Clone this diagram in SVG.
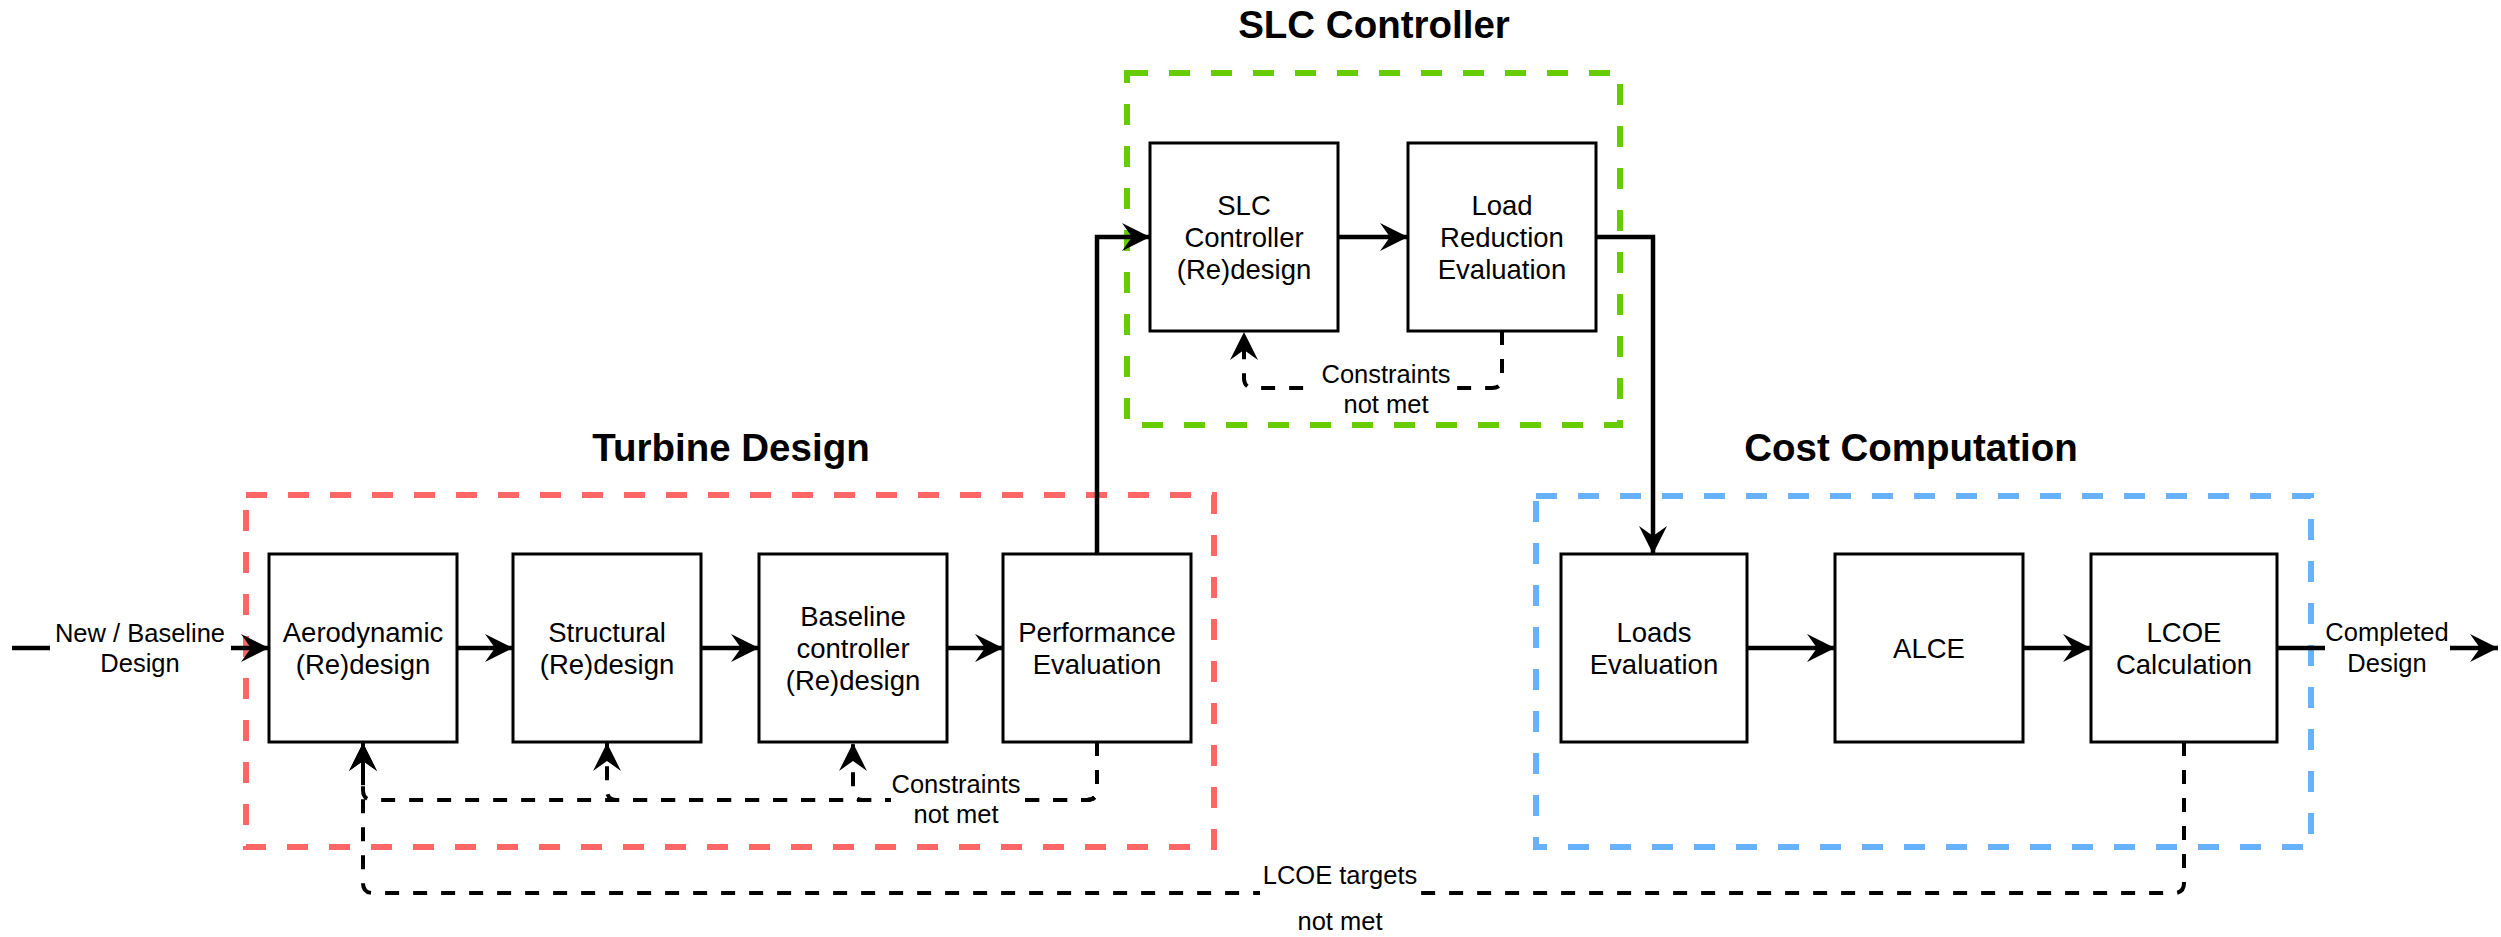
<svg xmlns="http://www.w3.org/2000/svg" width="2501" height="937" viewBox="0 0 2501 937">
<style>
.grp{fill:none;stroke-width:6;stroke-dasharray:21 21}
.box{fill:#fff;stroke:#000;stroke-width:3}
.t{font-family:"Liberation Sans",Arial,sans-serif;font-size:27.5px;text-anchor:middle;fill:#000}
.lb{font-family:"Liberation Sans",Arial,sans-serif;font-size:25.5px;text-anchor:middle;fill:#000}
.title{font-family:"Liberation Sans",Arial,sans-serif;font-size:38.5px;font-weight:bold;text-anchor:middle;fill:#000}
.c{fill:none;stroke:#000;stroke-width:4.5}
.d{fill:none;stroke:#000;stroke-width:4;stroke-dasharray:14 14}
.bg{fill:#fff}
</style>
<defs>
<marker id="arr" viewBox="0 0 28 28" refX="28" refY="14" markerWidth="28" markerHeight="28" markerUnits="userSpaceOnUse" orient="auto">
<path d="M28,14 L0,0 L10,14 L0,28 Z" fill="#000"/>
</marker>
</defs>
<rect width="2501" height="937" fill="#fff"/>
<g id="groups">
<rect id="turbine-design" class="grp" stroke="#FF6666" x="246" y="495" width="968" height="352"/>
<rect id="slc-controller" class="grp" stroke="#66CC00" x="1127" y="73" width="493" height="352"/>
<rect id="cost-computation" class="grp" stroke="#66B2FF" x="1536" y="496" width="775" height="351"/>
<text class="title" x="731" y="461">Turbine Design</text>
<text class="title" x="1374" y="38">SLC Controller</text>
<text class="title" x="1911" y="461">Cost Computation</text>
</g>
<g id="connectors">
<path class="c" d="M12,648 H269" marker-end="url(#arr)"/>
<path class="c" d="M457,648 H513" marker-end="url(#arr)"/>
<path class="c" d="M701,648 H759" marker-end="url(#arr)"/>
<path class="c" d="M947,648 H1003" marker-end="url(#arr)"/>
<path class="c" d="M1097,554 V237 H1150" marker-end="url(#arr)"/>
<path class="c" d="M1338,237 H1408" marker-end="url(#arr)"/>
<path class="c" d="M1596,237 H1653 V554" marker-end="url(#arr)"/>
<path class="c" d="M1747,648 H1835" marker-end="url(#arr)"/>
<path class="c" d="M2023,648 H2091" marker-end="url(#arr)"/>
<path class="c" d="M2277,648 H2498" marker-end="url(#arr)"/>
<path class="d" d="M1097,742 V790 Q1097,800 1087,800 H373 Q363,800 363,790 V743" marker-end="url(#arr)"/>
<path class="d" d="M1097,742 V790 Q1097,800 1087,800 H617 Q607,800 607,790 V743" marker-end="url(#arr)"/>
<path class="d" d="M1097,742 V790 Q1097,800 1087,800 H863 Q853,800 853,790 V743" marker-end="url(#arr)"/>
<path class="d" d="M2184,742 V883 Q2184,893 2174,893 H373 Q363,893 363,883 V743" marker-end="url(#arr)"/>
<path class="d" d="M1502,331 V378 Q1502,388 1492,388 H1254 Q1244,388 1244,378 V332" marker-end="url(#arr)"/>
<rect class="bg" x="50" y="615" width="181" height="66"/>
<text class="lb" x="140" y="642">New / Baseline</text>
<text class="lb" x="140" y="672">Design</text>
<rect class="bg" x="891" y="770" width="130" height="60"/>
<text class="lb" x="956" y="793">Constraints</text>
<text class="lb" x="956" y="823">not met</text>
<rect class="bg" x="1317" y="360" width="137" height="58"/>
<text class="lb" x="1386" y="383">Constraints</text>
<text class="lb" x="1386" y="413">not met</text>
<rect class="bg" x="2325" y="615" width="125" height="66"/>
<text class="lb" x="2387" y="641">Completed</text>
<text class="lb" x="2387" y="672">Design</text>
<rect class="bg" x="1260" y="860" width="161" height="40"/>
<text class="lb" x="1340" y="884">LCOE targets</text>
<text class="lb" x="1340" y="930">not met</text>
</g>
<g id="aero">
<rect class="box" x="269" y="554" width="188" height="188"/>
<text class="t" x="363" y="642">Aerodynamic</text>
<text class="t" x="363" y="674">(Re)design</text>
</g>
<g id="structural">
<rect class="box" x="513" y="554" width="188" height="188"/>
<text class="t" x="607" y="642">Structural</text>
<text class="t" x="607" y="674">(Re)design</text>
</g>
<g id="baseline">
<rect class="box" x="759" y="554" width="188" height="188"/>
<text class="t" x="853" y="626">Baseline</text>
<text class="t" x="853" y="658">controller</text>
<text class="t" x="853" y="690">(Re)design</text>
</g>
<g id="performance">
<rect class="box" x="1003" y="554" width="188" height="188"/>
<text class="t" x="1097" y="642">Performance</text>
<text class="t" x="1097" y="674">Evaluation</text>
</g>
<g id="slc">
<rect class="box" x="1150" y="143" width="188" height="188"/>
<text class="t" x="1244" y="215">SLC</text>
<text class="t" x="1244" y="247">Controller</text>
<text class="t" x="1244" y="279">(Re)design</text>
</g>
<g id="loadred">
<rect class="box" x="1408" y="143" width="188" height="188"/>
<text class="t" x="1502" y="215">Load</text>
<text class="t" x="1502" y="247">Reduction</text>
<text class="t" x="1502" y="279">Evaluation</text>
</g>
<g id="loads">
<rect class="box" x="1561" y="554" width="186" height="188"/>
<text class="t" x="1654" y="642">Loads</text>
<text class="t" x="1654" y="674">Evaluation</text>
</g>
<g id="alce">
<rect class="box" x="1835" y="554" width="188" height="188"/>
<text class="t" x="1929" y="658">ALCE</text>
</g>
<g id="lcoe">
<rect class="box" x="2091" y="554" width="186" height="188"/>
<text class="t" x="2184" y="642">LCOE</text>
<text class="t" x="2184" y="674">Calculation</text>
</g>
</svg>
